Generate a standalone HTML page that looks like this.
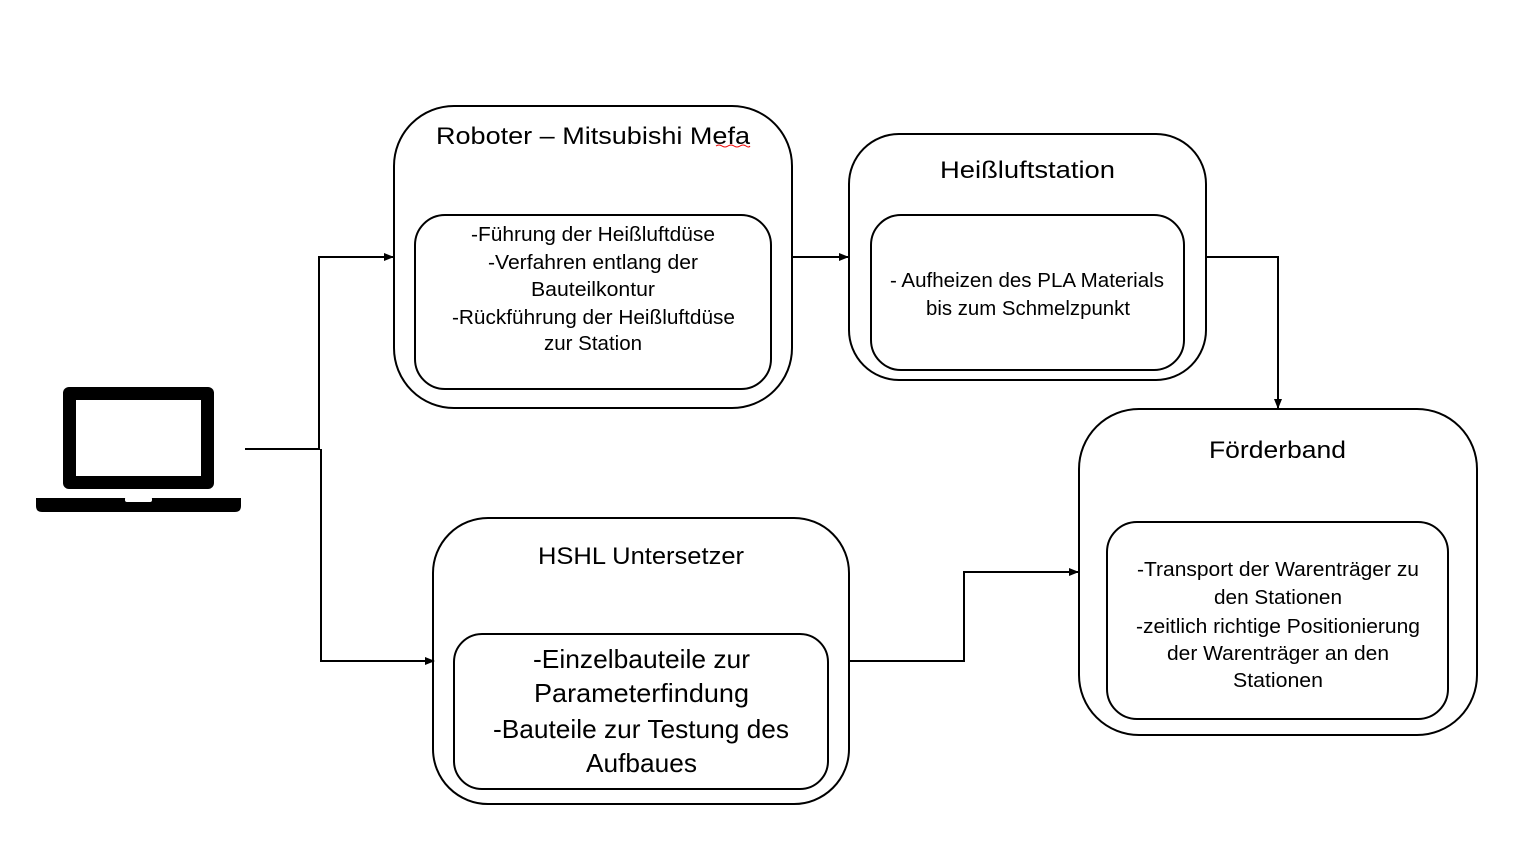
<!DOCTYPE html>
<html><head><meta charset="utf-8"><style>html,body{margin:0;padding:0;background:#fff}svg{display:block}</style></head>
<body>
<svg width="1525" height="845" viewBox="0 0 1525 845" xmlns="http://www.w3.org/2000/svg" font-family="'Liberation Sans', sans-serif" fill="#000">
<defs><marker id="a" markerWidth="10" markerHeight="8" refX="9" refY="4" orient="auto" markerUnits="userSpaceOnUse"><path d="M0,0 L10,4 L0,8 z"/></marker></defs>
<!-- laptop -->
<rect x="63" y="387" width="151" height="102" rx="6" fill="#000"/>
<rect x="76" y="400" width="125" height="76" fill="#fff"/>
<path d="M36,498 H241 V506 Q241,512 235,512 H42 Q36,512 36,506 Z"/>
<rect x="125" y="497" width="27" height="5" rx="2" fill="#fff"/>
<g fill="none" stroke="#000" stroke-width="2">
<!-- boxes -->
<rect x="394" y="106" width="398" height="302" rx="60"/>
<rect x="415" y="215" width="356" height="174" rx="30"/>
<rect x="849" y="134" width="357" height="246" rx="50"/>
<rect x="871" y="215" width="313" height="155" rx="30"/>
<rect x="1079" y="409" width="398" height="326" rx="60"/>
<rect x="1107" y="522" width="341" height="197" rx="30"/>
<rect x="433" y="518" width="416" height="286" rx="55"/>
<rect x="454" y="634" width="374" height="155" rx="28"/>
<!-- connectors -->
<path d="M245,449 H320"/>
<path d="M319,449 V257 H393" marker-end="url(#a)"/>
<path d="M321,449 V661 H434" marker-end="url(#a)"/>
<path d="M792,257 H848" marker-end="url(#a)"/>
<path d="M1206,257 H1278 V408" marker-end="url(#a)"/>
<path d="M849,661 H964 V572 H1078" marker-end="url(#a)"/>
</g>
<path d="M716,146 q3,-2 6,0 t6,0 t6,0 t6,0 t6,0 t4,0" fill="none" stroke="#e00" stroke-width="1"/>
<g font-size="24">
<text x="436" y="144" textLength="314" lengthAdjust="spacingAndGlyphs">Roboter – Mitsubishi Mefa</text>
<text x="940" y="178" textLength="175" lengthAdjust="spacingAndGlyphs">Heißluftstation</text>
<text x="1209" y="458" textLength="137" lengthAdjust="spacingAndGlyphs">Förderband</text>
<text x="538" y="564" textLength="206" lengthAdjust="spacingAndGlyphs">HSHL Untersetzer</text>
</g>
<g font-size="20">
<text x="471" y="241" textLength="244" lengthAdjust="spacingAndGlyphs">-Führung der Heißluftdüse</text>
<text x="488" y="269" textLength="210" lengthAdjust="spacingAndGlyphs">-Verfahren entlang der</text>
<text x="531" y="296" textLength="124" lengthAdjust="spacingAndGlyphs">Bauteilkontur</text>
<text x="452" y="324" textLength="283" lengthAdjust="spacingAndGlyphs">-Rückführung der Heißluftdüse</text>
<text x="544" y="350" textLength="98" lengthAdjust="spacingAndGlyphs">zur Station</text>
<text x="890" y="287" textLength="274" lengthAdjust="spacingAndGlyphs">- Aufheizen des PLA Materials</text>
<text x="926" y="315" textLength="204" lengthAdjust="spacingAndGlyphs">bis zum Schmelzpunkt</text>
<text x="1137" y="576" textLength="282" lengthAdjust="spacingAndGlyphs">-Transport der Warenträger zu</text>
<text x="1214" y="604" textLength="128" lengthAdjust="spacingAndGlyphs">den Stationen</text>
<text x="1136" y="633" textLength="284" lengthAdjust="spacingAndGlyphs">-zeitlich richtige Positionierung</text>
<text x="1167" y="660" textLength="222" lengthAdjust="spacingAndGlyphs">der Warenträger an den</text>
<text x="1233" y="687" textLength="90" lengthAdjust="spacingAndGlyphs">Stationen</text>
</g>
<g font-size="26">
<text x="533" y="668" textLength="217" lengthAdjust="spacingAndGlyphs">-Einzelbauteile zur</text>
<text x="534" y="702" textLength="215" lengthAdjust="spacingAndGlyphs">Parameterfindung</text>
<text x="493" y="738" textLength="296" lengthAdjust="spacingAndGlyphs">-Bauteile zur Testung des</text>
<text x="586" y="772" textLength="111" lengthAdjust="spacingAndGlyphs">Aufbaues</text>
</g>
</svg>
</body></html>
